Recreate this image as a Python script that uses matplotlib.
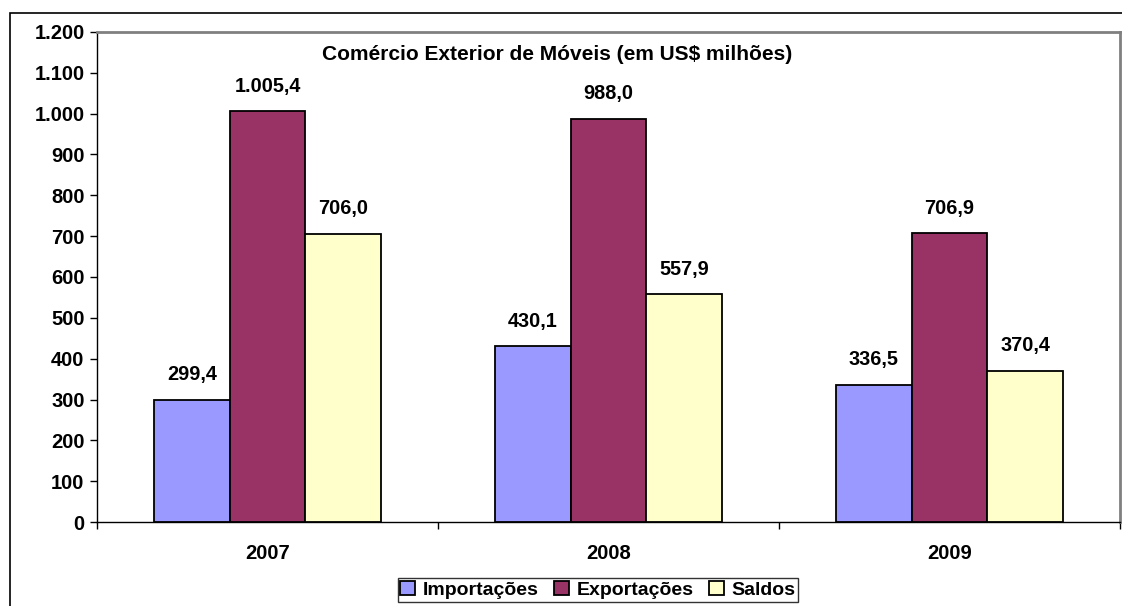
import matplotlib
matplotlib.use("Agg")
import matplotlib.pyplot as plt
from matplotlib.patches import Rectangle
import numpy as np

plt.rcParams['font.family'] = ['Liberation Sans', 'DejaVu Sans']
plt.rcParams['font.weight'] = 'bold'

years = ["2007", "2008", "2009"]
series = ["Importações", "Exportações", "Saldos"]
importacoes = [299.4, 430.1, 336.5]
exportacoes = [1005.4, 988.0, 706.9]
saldos = [706.0, 557.9, 370.4]
yticks = [0, 100, 200, 300, 400, 500, 600, 700, 800, 900, 1000, 1100, 1200]

COLS = ["#9999FF", "#993366", "#FFFFCC"]


def br(v, dec=1):
    s = f"{v:,.{dec}f}"
    return s.replace(",", "X").replace(".", ",").replace("X", ".")


fig = plt.figure(figsize=(11.22, 6.06), dpi=100)
ax = fig.add_axes([97/1122, 84/606, 1023/1122, 490/606])

x = np.arange(len(years))
w = 1/4.5
for i, (vals, col) in enumerate(zip([importacoes, exportacoes, saldos], COLS)):
    bars = ax.bar(x + (i-1)*w, vals, w, color=col, edgecolor="black", lw=1.3,
                  label=series[i], zorder=3)
    for b, v in zip(bars, vals):
        ax.text(b.get_x() + b.get_width()/2, v + 38, br(v), ha="center", va="bottom",
                fontsize=14.3, fontweight="bold")

ax.set_xlim(-0.5, 2.5)
ax.set_ylim(0, 1200)
ax.set_yticks(yticks)
ax.set_yticklabels([br(t, 0) for t in yticks], fontsize=14.5, fontweight="bold")
ax.set_xticks(x)
ax.set_xticklabels(years, fontsize=14.5, fontweight="bold")
ax.set_xticks([-0.5, 0.5, 1.5, 2.5], minor=True)
ax.tick_params(axis="x", which="major", length=0, pad=16)
ax.tick_params(axis="x", which="minor", length=5, width=1, direction="out")
ax.tick_params(axis="y", length=5, width=1, direction="out", pad=4)

for s in ("left", "bottom"):
    ax.spines[s].set_color("black")
    ax.spines[s].set_linewidth(1.0)
for s in ("top", "right"):
    ax.spines[s].set_color("#808080")
    ax.spines[s].set_linewidth(2.0)

ax.text(0.450, 0.955, "Comércio Exterior de Móveis (em US$ milhões)", transform=ax.transAxes,
        ha="center", va="center", fontsize=15, fontweight="bold")

leg = fig.legend(loc="center", bbox_to_anchor=(598/1122, 16/606), ncol=3,
                 frameon=True, fancybox=False, fontsize=14, handlelength=0.75,
                 handleheight=0.75, handletextpad=0.4, columnspacing=0.8,
                 borderpad=0.15, borderaxespad=0)
leg.get_frame().set_edgecolor("black")
leg.get_frame().set_linewidth(1.0)
for t in leg.get_texts():
    t.set_fontweight("bold")

# outer chart border (right and bottom fall outside the picture)
fig.add_artist(Rectangle((10/1122, -0.1), 1.2, 1 - 13/606 + 0.1, transform=fig.transFigure,
                         fill=False, ec="black", lw=1.2))

fig.savefig("out.png", dpi=100)
